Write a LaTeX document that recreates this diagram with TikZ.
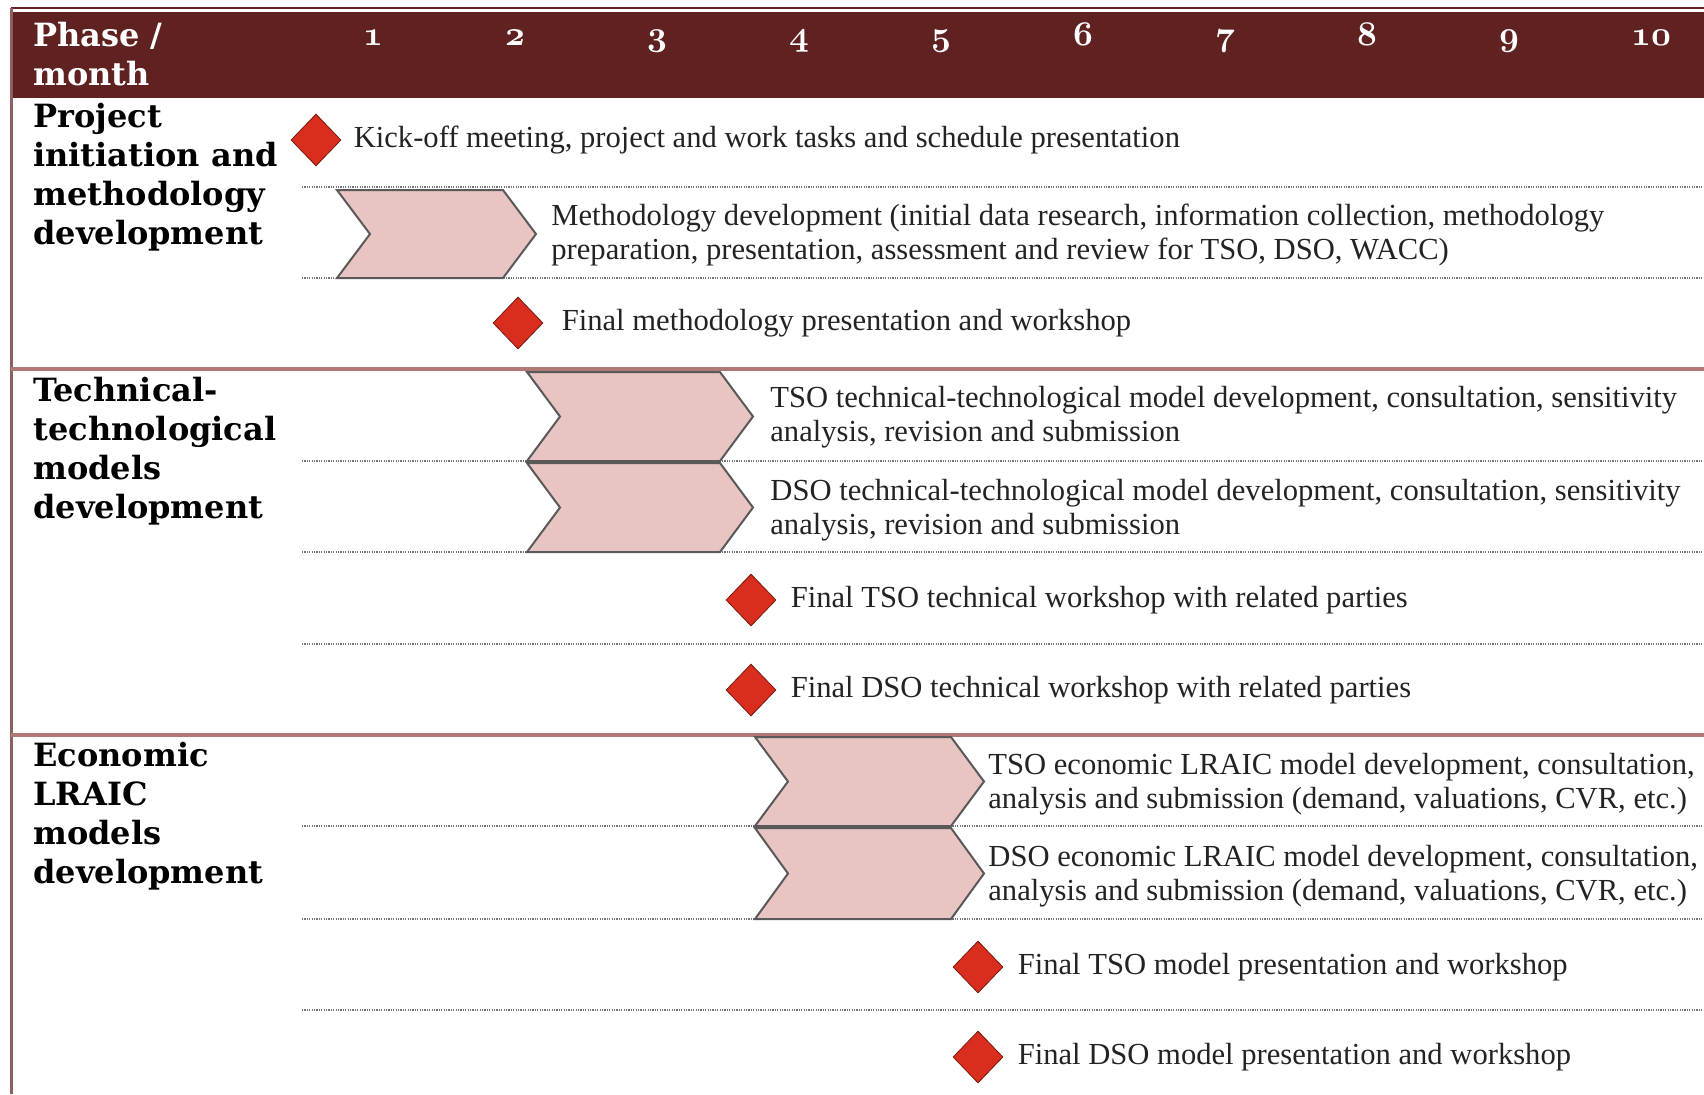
\documentclass[tikz,border=0pt]{standalone}
\usepackage{fontspec}
\newfontfamily\labelfont{DejaVu Serif}
\newfontfamily\bodyfont{Liberation Serif}
\usepackage{tikz}
\usetikzlibrary{positioning, shapes, arrows.meta}

\definecolor{hdrred}{RGB}{95,34,32}
\definecolor{chevpink}{RGB}{232,196,194}
\definecolor{msred}{RGB}{217,46,30}
\definecolor{framered}{RGB}{176,120,118}
\definecolor{txtgray}{RGB}{35,35,35}

\tikzset{
  milestone/.style={diamond, draw=msred!55!black, fill=msred, minimum width=25pt, minimum height=26pt, inner sep=0pt},
  task/.style={anchor=west, align=left, inner sep=0pt, text=txtgray, font=\bodyfont\fontsize{15.3}{16.8}\selectfont},
  phase/.style={anchor=north west, align=left, inner sep=0pt, font=\labelfont\bfseries\fontsize{16}{19.5}\selectfont},
  chev/.style={draw=black!65, line width=1pt, fill=chevpink},
  rowline/.style={draw=black!55, line width=1pt, dash pattern=on 0.6pt off 0.6pt}
}

\begin{document}
\begin{tikzpicture}[x=0.5pt, y=-0.5pt]
        \useasboundingbox (0,0) rectangle (1704,1094);

        % header
        \draw[hdrred, line width=1pt] (11,8) -- (1704,8);
        \fill[hdrred] (11,12) rectangle (1704,98);
        \node[phase, text=white] (hdr) at (33,22) {Phase /\\month};
        \foreach \mo in {1,...,10}
        \node[anchor=base, text=white, font=\fontsize{17.28}{20}\usefont{OML}{cmm}{b}{it}] (m\mo) at ({373+142*(\mo-1)},45) {\mo};

        % frame and phase dividers
        \draw[framered!80!black, line width=1.5pt] (11,8) -- (11,1094);
        \draw[framered, line width=2pt] (11,369) -- (1704,369);
        \draw[framered, line width=2pt] (11,735) -- (1704,735);

        % dotted row lines
        \foreach \y in {187, 278, 461, 552, 644, 826, 919, 1010}
        \draw[rowline] (302,\y) -- (1704,\y);

        % chevrons
        \foreach \l/\r/\t/\b in {337/503/190/278, 527/720/372/461, 527/720/463/552, 755/951/737/826, 755/951/828/919}
        \draw[chev] (\l,\t) -- (\r,\t) -- ({\r+33},{(\t+\b)/2}) -- (\r,\b) -- (\l,\b) -- ({\l+33},{(\t+\b)/2}) -- cycle;

        % phase labels
        \node[phase] (ph1) at (33,103) {Project\\initiation and\\methodology\\development};
        \node[phase] (ph2) at (33,377) {Technical-\\technological\\models\\development};
        \node[phase] (ph3) at (33,742) {Economic\\LRAIC\\models\\development};

        % phase 1
        \node[milestone] (kickoffms) at (316,140) {};
        \node[task, right=6pt of kickoffms] (kickoff) {Kick-off meeting, project and work tasks and schedule presentation};
        \node[task] (methdev) at (551,235) {Methodology development (initial data research, information collection, methodology\\preparation, presentation, assessment and review for TSO, DSO, WACC)};
        \node[milestone] (finalmethms) at (518,323) {};
        \node[task, right=9pt of finalmethms] (finalmeth) {Final methodology presentation and workshop};

        % phase 2
        \node[task] (tsotech) at (770,417) {TSO technical-technological model development, consultation, sensitivity\\analysis, revision and submission};
        \node[task] (dsotech) at (770,510) {DSO technical-technological model development, consultation, sensitivity\\analysis, revision and submission};
        \node[milestone] (tsowsms) at (751,600) {};
        \node[task, right=7pt of tsowsms] (tsows) {Final TSO technical workshop with related parties};
        \node[milestone] (dsowsms) at (751,690) {};
        \node[task, right=7pt of dsowsms] (dsows) {Final DSO technical workshop with related parties};

        % phase 3
        \node[task] (tsoecon) at (988,784) {TSO economic LRAIC model development, consultation,\\analysis and submission (demand, valuations, CVR, etc.)};
        \node[task] (dsoecon) at (988,876) {DSO economic LRAIC model development, consultation,\\analysis and submission (demand, valuations, CVR, etc.)};
        \node[milestone] (tsofinalms) at (978,967) {};
        \node[task, right=7pt of tsofinalms] (tsofinal) {Final TSO model presentation and workshop};
        \node[milestone] (dsofinalms) at (978,1057) {};
        \node[task, right=7pt of dsofinalms] (dsofinal) {Final DSO model presentation and workshop};

    \end{tikzpicture}
\end{document}
